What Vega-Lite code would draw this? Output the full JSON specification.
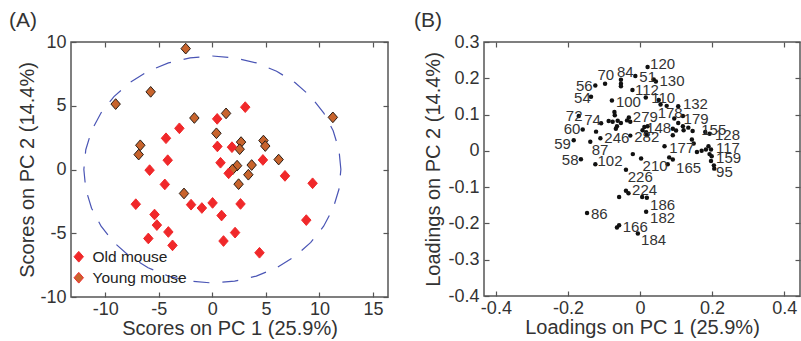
{
  "$schema": "https://vega.github.io/schema/vega-lite/v6.json",
  "background": "white",
  "padding": {"left": 8, "top": 8, "right": 1, "bottom": 2},
  "config": {
    "font": "Liberation Sans",
    "view": {"stroke": "#555555", "strokeWidth": 1.5},
    "axis": {"domain": false, "grid": false, "tickSize": -5, "tickColor": "#555555", "tickWidth": 1.2, "labelPadding": 10, "labelFontSize": 18, "labelColor": "#333333", "titleFontSize": 20, "titleColor": "#333333", "titleFontWeight": "normal", "labelFont": "Liberation Sans", "titleFont": "Liberation Sans"},
    "axisX": {"labelPadding": 8.5, "titlePadding": 0},
    "title": {"fontSize": 21, "fontWeight": "normal", "anchor": "start", "frame": "group", "color": "#333333", "font": "Liberation Sans"}
  },
  "datasets": {
    "scores": [
      {"pc1": -2.49, "pc2": 9.48, "group": "Young mouse"},
      {"pc1": -9.03, "pc2": 5.13, "group": "Young mouse"},
      {"pc1": -5.76, "pc2": 6.09, "group": "Young mouse"},
      {"pc1": -1.68, "pc2": 4.04, "group": "Young mouse"},
      {"pc1": 1.28, "pc2": 4.40, "group": "Young mouse"},
      {"pc1": 11.25, "pc2": 4.09, "group": "Young mouse"},
      {"pc1": -6.73, "pc2": 1.90, "group": "Young mouse"},
      {"pc1": -6.88, "pc2": 1.17, "group": "Young mouse"},
      {"pc1": 0.38, "pc2": 2.84, "group": "Young mouse"},
      {"pc1": 2.68, "pc2": 2.15, "group": "Young mouse"},
      {"pc1": 2.55, "pc2": 1.59, "group": "Young mouse"},
      {"pc1": 4.77, "pc2": 2.27, "group": "Young mouse"},
      {"pc1": 4.94, "pc2": 1.84, "group": "Young mouse"},
      {"pc1": 6.19, "pc2": 0.78, "group": "Young mouse"},
      {"pc1": 3.67, "pc2": 0.35, "group": "Young mouse"},
      {"pc1": 2.31, "pc2": 0.30, "group": "Young mouse"},
      {"pc1": 1.87, "pc2": -0.01, "group": "Young mouse"},
      {"pc1": 3.36, "pc2": -0.41, "group": "Young mouse"},
      {"pc1": 2.45, "pc2": -1.15, "group": "Young mouse"},
      {"pc1": -2.65, "pc2": -1.88, "group": "Young mouse"},
      {"pc1": 3.07, "pc2": 4.89, "group": "Old mouse"},
      {"pc1": 0.45, "pc2": 3.97, "group": "Old mouse"},
      {"pc1": -3.08, "pc2": 3.23, "group": "Old mouse"},
      {"pc1": -4.33, "pc2": 2.45, "group": "Old mouse"},
      {"pc1": -4.17, "pc2": 0.73, "group": "Old mouse"},
      {"pc1": -5.86, "pc2": -0.05, "group": "Old mouse"},
      {"pc1": -4.44, "pc2": -1.17, "group": "Old mouse"},
      {"pc1": 0.47, "pc2": 1.81, "group": "Old mouse"},
      {"pc1": 1.83, "pc2": 1.75, "group": "Old mouse"},
      {"pc1": 0.76, "pc2": 0.53, "group": "Old mouse"},
      {"pc1": 1.52, "pc2": -0.30, "group": "Old mouse"},
      {"pc1": 4.72, "pc2": 0.75, "group": "Old mouse"},
      {"pc1": 6.78, "pc2": -0.50, "group": "Old mouse"},
      {"pc1": 9.36, "pc2": -1.08, "group": "Old mouse"},
      {"pc1": -7.15, "pc2": -2.72, "group": "Old mouse"},
      {"pc1": -1.99, "pc2": -2.76, "group": "Old mouse"},
      {"pc1": -0.98, "pc2": -3.02, "group": "Old mouse"},
      {"pc1": 0.02, "pc2": -2.62, "group": "Old mouse"},
      {"pc1": 2.63, "pc2": -2.70, "group": "Old mouse"},
      {"pc1": -5.40, "pc2": -3.53, "group": "Old mouse"},
      {"pc1": 0.86, "pc2": -3.61, "group": "Old mouse"},
      {"pc1": -5.18, "pc2": -4.36, "group": "Old mouse"},
      {"pc1": -4.11, "pc2": -4.90, "group": "Old mouse"},
      {"pc1": -5.98, "pc2": -5.41, "group": "Old mouse"},
      {"pc1": -3.72, "pc2": -5.95, "group": "Old mouse"},
      {"pc1": 1.04, "pc2": -5.61, "group": "Old mouse"},
      {"pc1": 2.12, "pc2": -4.95, "group": "Old mouse"},
      {"pc1": 8.77, "pc2": -3.97, "group": "Old mouse"},
      {"pc1": 4.40, "pc2": -6.53, "group": "Old mouse"}
    ],
    "ellipse": [
      {"i": 0, "ex": 12, "ey": 0}, {"i": 1, "ex": 11.82, "ey": 1.55}, {"i": 2, "ex": 11.28, "ey": 3.04},
      {"i": 3, "ex": 10.39, "ey": 4.45}, {"i": 4, "ex": 9.19, "ey": 5.72}, {"i": 5, "ex": 7.71, "ey": 6.82},
      {"i": 6, "ex": 6.0, "ey": 7.71}, {"i": 7, "ex": 4.1, "ey": 8.36}, {"i": 8, "ex": 2.08, "ey": 8.76},
      {"i": 9, "ex": 0, "ey": 8.9}, {"i": 10, "ex": -2.08, "ey": 8.76}, {"i": 11, "ex": -4.1, "ey": 8.36},
      {"i": 12, "ex": -6.0, "ey": 7.71}, {"i": 13, "ex": -7.71, "ey": 6.82}, {"i": 14, "ex": -9.19, "ey": 5.72},
      {"i": 15, "ex": -10.39, "ey": 4.45}, {"i": 16, "ex": -11.28, "ey": 3.04}, {"i": 17, "ex": -11.82, "ey": 1.55},
      {"i": 18, "ex": -12, "ey": 0}, {"i": 19, "ex": -11.82, "ey": -1.55}, {"i": 20, "ex": -11.28, "ey": -3.04},
      {"i": 21, "ex": -10.39, "ey": -4.45}, {"i": 22, "ex": -9.19, "ey": -5.72}, {"i": 23, "ex": -7.71, "ey": -6.82},
      {"i": 24, "ex": -6.0, "ey": -7.71}, {"i": 25, "ex": -4.1, "ey": -8.36}, {"i": 26, "ex": -2.08, "ey": -8.76},
      {"i": 27, "ex": 0, "ey": -8.9}, {"i": 28, "ex": 2.08, "ey": -8.76}, {"i": 29, "ex": 4.1, "ey": -8.36},
      {"i": 30, "ex": 6.0, "ey": -7.71}, {"i": 31, "ex": 7.71, "ey": -6.82}, {"i": 32, "ex": 9.19, "ey": -5.72},
      {"i": 33, "ex": 10.39, "ey": -4.45}, {"i": 34, "ex": 11.28, "ey": -3.04}, {"i": 35, "ex": 11.82, "ey": -1.55},
      {"i": 36, "ex": 12, "ey": 0}
    ],
    "loadings": [
      {"l1": -0.184, "l2": 0.029}, {"l1": -0.170, "l2": 0.096}, {"l1": -0.164, "l2": -0.023}, {"l1": -0.159, "l2": 0.059},
      {"l1": -0.147, "l2": -0.171}, {"l1": -0.138, "l2": 0.025}, {"l1": -0.136, "l2": 0.149}, {"l1": -0.124, "l2": 0.180},
      {"l1": -0.124, "l2": -0.037}, {"l1": -0.122, "l2": 0.053}, {"l1": -0.110, "l2": 0.035}, {"l1": -0.108, "l2": 0.076},
      {"l1": -0.097, "l2": 0.185}, {"l1": -0.087, "l2": 0.082}, {"l1": -0.071, "l2": 0.107}, {"l1": -0.070, "l2": 0.098},
      {"l1": -0.076, "l2": 0.080}, {"l1": -0.062, "l2": 0.083}, {"l1": -0.064, "l2": 0.068}, {"l1": -0.053, "l2": 0.077},
      {"l1": -0.067, "l2": 0.061}, {"l1": -0.078, "l2": 0.139}, {"l1": -0.064, "l2": -0.211}, {"l1": -0.058, "l2": -0.205},
      {"l1": -0.058, "l2": -0.127}, {"l1": -0.053, "l2": 0.196}, {"l1": -0.053, "l2": 0.185}, {"l1": -0.053, "l2": 0.178},
      {"l1": -0.039, "l2": -0.052}, {"l1": -0.039, "l2": -0.110}, {"l1": -0.036, "l2": 0.084}, {"l1": -0.032, "l2": -0.117},
      {"l1": -0.031, "l2": 0.092}, {"l1": -0.027, "l2": 0.080}, {"l1": -0.027, "l2": 0.042}, {"l1": -0.021, "l2": 0.168},
      {"l1": -0.020, "l2": -0.009}, {"l1": -0.013, "l2": 0.206}, {"l1": -0.006, "l2": -0.228}, {"l1": 0.003, "l2": -0.021},
      {"l1": 0.006, "l2": -0.127}, {"l1": 0.007, "l2": 0.057}, {"l1": 0.012, "l2": 0.066}, {"l1": 0.016, "l2": 0.147},
      {"l1": 0.017, "l2": -0.168}, {"l1": 0.017, "l2": 0.051}, {"l1": 0.019, "l2": 0.043}, {"l1": 0.019, "l2": -0.129},
      {"l1": 0.021, "l2": 0.231}, {"l1": 0.021, "l2": 0.068}, {"l1": 0.038, "l2": 0.197}, {"l1": 0.044, "l2": 0.191},
      {"l1": 0.052, "l2": 0.140}, {"l1": 0.057, "l2": 0.128}, {"l1": 0.068, "l2": 0.013}, {"l1": 0.074, "l2": 0.124},
      {"l1": 0.077, "l2": -0.037}, {"l1": 0.081, "l2": -0.018}, {"l1": 0.091, "l2": -0.024}, {"l1": 0.091, "l2": 0.061},
      {"l1": 0.091, "l2": 0.043}, {"l1": 0.095, "l2": 0.089}, {"l1": 0.100, "l2": 0.056}, {"l1": 0.106, "l2": 0.123},
      {"l1": 0.106, "l2": 0.077}, {"l1": 0.119, "l2": 0.096}, {"l1": 0.119, "l2": 0.068}, {"l1": 0.121, "l2": 0.057},
      {"l1": 0.134, "l2": 0.064}, {"l1": 0.144, "l2": 0.031}, {"l1": 0.146, "l2": 0.055}, {"l1": 0.149, "l2": 0.020},
      {"l1": 0.158, "l2": -0.003}, {"l1": 0.171, "l2": 0.000}, {"l1": 0.181, "l2": 0.052}, {"l1": 0.183, "l2": 0.004},
      {"l1": 0.190, "l2": 0.013}, {"l1": 0.193, "l2": 0.047}, {"l1": 0.193, "l2": -0.009}, {"l1": 0.197, "l2": 0.004},
      {"l1": 0.197, "l2": -0.028}, {"l1": 0.199, "l2": -0.015}, {"l1": 0.205, "l2": -0.040}, {"l1": 0.206, "l2": -0.049}
    ],
    "labels": [
      {"id": "120", "lx": 0.028, "ly": 0.240}, {"id": "51", "lx": -0.002, "ly": 0.204}, {"id": "130", "lx": 0.054, "ly": 0.192},
      {"id": "112", "lx": -0.014, "ly": 0.168}, {"id": "70", "lx": -0.118, "ly": 0.209}, {"id": "84", "lx": -0.064, "ly": 0.217},
      {"id": "56", "lx": -0.178, "ly": 0.178}, {"id": "54", "lx": -0.183, "ly": 0.146}, {"id": "100", "lx": -0.067, "ly": 0.134},
      {"id": "110", "lx": 0.031, "ly": 0.145}, {"id": "132", "lx": 0.119, "ly": 0.128}, {"id": "178", "lx": 0.049, "ly": 0.104},
      {"id": "179", "lx": 0.121, "ly": 0.088}, {"id": "148", "lx": 0.017, "ly": 0.062}, {"id": "279", "lx": -0.020, "ly": 0.094},
      {"id": "155", "lx": 0.170, "ly": 0.058}, {"id": "128", "lx": 0.208, "ly": 0.045}, {"id": "117", "lx": 0.211, "ly": 0.009},
      {"id": "159", "lx": 0.211, "ly": -0.020}, {"id": "95", "lx": 0.211, "ly": -0.058}, {"id": "177", "lx": 0.081, "ly": 0.009},
      {"id": "282", "lx": -0.016, "ly": 0.039}, {"id": "246", "lx": -0.099, "ly": 0.035}, {"id": "72", "lx": -0.206, "ly": 0.096},
      {"id": "74", "lx": -0.155, "ly": 0.084}, {"id": "60", "lx": -0.212, "ly": 0.060}, {"id": "59", "lx": -0.238, "ly": 0.018},
      {"id": "58", "lx": -0.217, "ly": -0.026}, {"id": "87", "lx": -0.134, "ly": 0.003}, {"id": "102", "lx": -0.118, "ly": -0.028},
      {"id": "210", "lx": 0.007, "ly": -0.042}, {"id": "165", "lx": 0.100, "ly": -0.046}, {"id": "226", "lx": -0.034, "ly": -0.071},
      {"id": "224", "lx": -0.022, "ly": -0.109}, {"id": "186", "lx": 0.028, "ly": -0.148}, {"id": "182", "lx": 0.028, "ly": -0.184},
      {"id": "86", "lx": -0.136, "ly": -0.173}, {"id": "166", "lx": -0.048, "ly": -0.211}, {"id": "184", "lx": 0.003, "ly": -0.247}
    ]
  },
  "bounds": "flush",
  "spacing": 96,
  "resolve": {"scale": {"color": "independent"}, "legend": {"color": "independent"}},
  "hconcat": [
    {
      "width": 317,
      "height": 255,
      "title": {"text": "(A)", "dx": -62, "offset": 2.5},
      "resolve": {"axis": {"x": "independent", "y": "independent"}},
      "layer": [
        {
          "data": {"name": "ellipse"},
          "mark": {"type": "line", "stroke": "#4a55b5", "strokeWidth": 1.2, "strokeDash": [16, 13]},
          "encoding": {
            "x": {"field": "ex", "type": "quantitative", "axis": null},
            "y": {"field": "ey", "type": "quantitative", "axis": null},
            "order": {"field": "i", "type": "quantitative"}
          }
        },
        {
          "mark": {"type": "rule", "stroke": "#555555", "strokeWidth": 1.5, "strokeDash": [10, 7]},
          "encoding": {"x": {"datum": 0, "type": "quantitative", "axis": null}}
        },
        {
          "mark": {"type": "rule", "stroke": "#555555", "strokeWidth": 1.5, "strokeDash": [10, 7]},
          "encoding": {"y": {"datum": 0, "type": "quantitative", "axis": null}}
        },
        {
          "data": {"name": "scores"},
          "mark": {"type": "point", "filled": true, "opacity": 1, "shape": "M0,-1L0.88,0L0,1L-0.88,0Z", "size": 115, "strokeWidth": 1},
          "encoding": {
            "x": {"field": "pc1", "type": "quantitative", "scale": {"domain": [-13.2, 16.4], "nice": false, "zero": false},
              "axis": {"values": [-10, -5, 0, 5, 10, 15], "title": "Scores on PC 1 (25.9%)", "labelExpr": "datum.value < 0 ? '-' + format(-datum.value, '~g') : format(datum.value, '~g')"}},
            "y": {"field": "pc2", "type": "quantitative", "scale": {"domain": [-10, 10], "nice": false, "zero": false},
              "axis": {"values": [-10, -5, 0, 5, 10], "title": "Scores on PC 2 (14.4%)", "titlePadding": 2, "labelExpr": "datum.value < 0 ? '-' + format(-datum.value, '~g') : format(datum.value, '~g')"}},
            "color": {"field": "group", "type": "nominal",
              "scale": {"domain": ["Old mouse", "Young mouse"], "range": ["#f0282a", "#c8642d"]},
              "legend": {"orient": "none", "legendX": 0, "legendY": 207, "padding": 0, "title": null, "labelFontSize": 15.5, "labelColor": "#222222", "labelFont": "Liberation Sans", "labelOffset": 6, "rowPadding": 4, "symbolType": "M0,-1L0.88,0L0,1L-0.88,0Z", "symbolSize": 115, "symbolStrokeWidth": 1,
                "encode": {"symbols": {"update": {
                  "fill": {"signal": "datum.value === 'Young mouse' ? '#9a1a10' : '#f0282a'"},
                  "stroke": {"signal": "datum.value === 'Young mouse' ? '#222222' : '#f0282a'"},
                  "fillOpacity": {"value": 1}}}}}},
            "stroke": {"condition": {"test": "datum.group === 'Young mouse'", "value": "#2a1d15"}, "value": "#f0282a"}
          }
        },
        {
          "data": {"name": "scores"},
          "mark": {"type": "point", "opacity": 0},
          "encoding": {
            "x": {"field": "pc1", "type": "quantitative", "axis": {"orient": "top", "values": [-10, -5, 0, 5, 10, 15], "labels": false, "title": null}},
            "y": {"field": "pc2", "type": "quantitative", "axis": {"orient": "right", "values": [-10, -5, 0, 5, 10], "labels": false, "title": null}}
          }
        }
      ]
    },
    {
      "width": 316,
      "height": 254,
      "title": {"text": "(B)", "dx": -70, "offset": 2.5},
      "resolve": {"axis": {"x": "independent", "y": "independent"}},
      "layer": [
        {
          "mark": {"type": "rule", "stroke": "#555555", "strokeWidth": 1.5, "strokeDash": [10, 8]},
          "encoding": {"x": {"datum": 0, "type": "quantitative", "axis": null}}
        },
        {
          "mark": {"type": "rule", "stroke": "#555555", "strokeWidth": 1.5, "strokeDash": [10, 8]},
          "encoding": {"y": {"datum": 0, "type": "quantitative", "axis": null}}
        },
        {
          "data": {"name": "loadings"},
          "mark": {"type": "circle", "color": "#111111", "opacity": 1, "size": 20},
          "encoding": {
            "x": {"field": "l1", "type": "quantitative", "scale": {"domain": [-0.433, 0.444], "nice": false, "zero": false},
              "axis": {"values": [-0.4, -0.2, 0, 0.2, 0.4], "title": "Loadings on PC 1 (25.9%)", "labelExpr": "datum.value < 0 ? '-' + format(-datum.value, '~g') : format(datum.value, '~g')"}},
            "y": {"field": "l2", "type": "quantitative", "scale": {"domain": [-0.4, 0.3], "nice": false, "zero": false},
              "axis": {"values": [-0.4, -0.3, -0.2, -0.1, 0, 0.1, 0.2, 0.3], "title": "Loadings on PC 2 (14.4%)", "labelExpr": "datum.value < 0 ? '-' + format(-datum.value, '~g') : format(datum.value, '~g')"}}
          }
        },
        {
          "data": {"name": "labels"},
          "mark": {"type": "text", "align": "left", "baseline": "middle", "fontSize": 15, "color": "#333333", "font": "Liberation Sans"},
          "encoding": {
            "x": {"field": "lx", "type": "quantitative", "axis": null},
            "y": {"field": "ly", "type": "quantitative", "axis": null},
            "text": {"field": "id", "type": "nominal"}
          }
        },
        {
          "data": {"name": "loadings"},
          "mark": {"type": "point", "opacity": 0},
          "encoding": {
            "x": {"field": "l1", "type": "quantitative", "axis": {"orient": "top", "values": [-0.4, -0.2, 0, 0.2, 0.4], "labels": false, "title": null}},
            "y": {"field": "l2", "type": "quantitative", "axis": {"orient": "right", "values": [-0.4, -0.3, -0.2, -0.1, 0, 0.1, 0.2, 0.3], "labels": false, "title": null}}
          }
        }
      ]
    }
  ]
}
